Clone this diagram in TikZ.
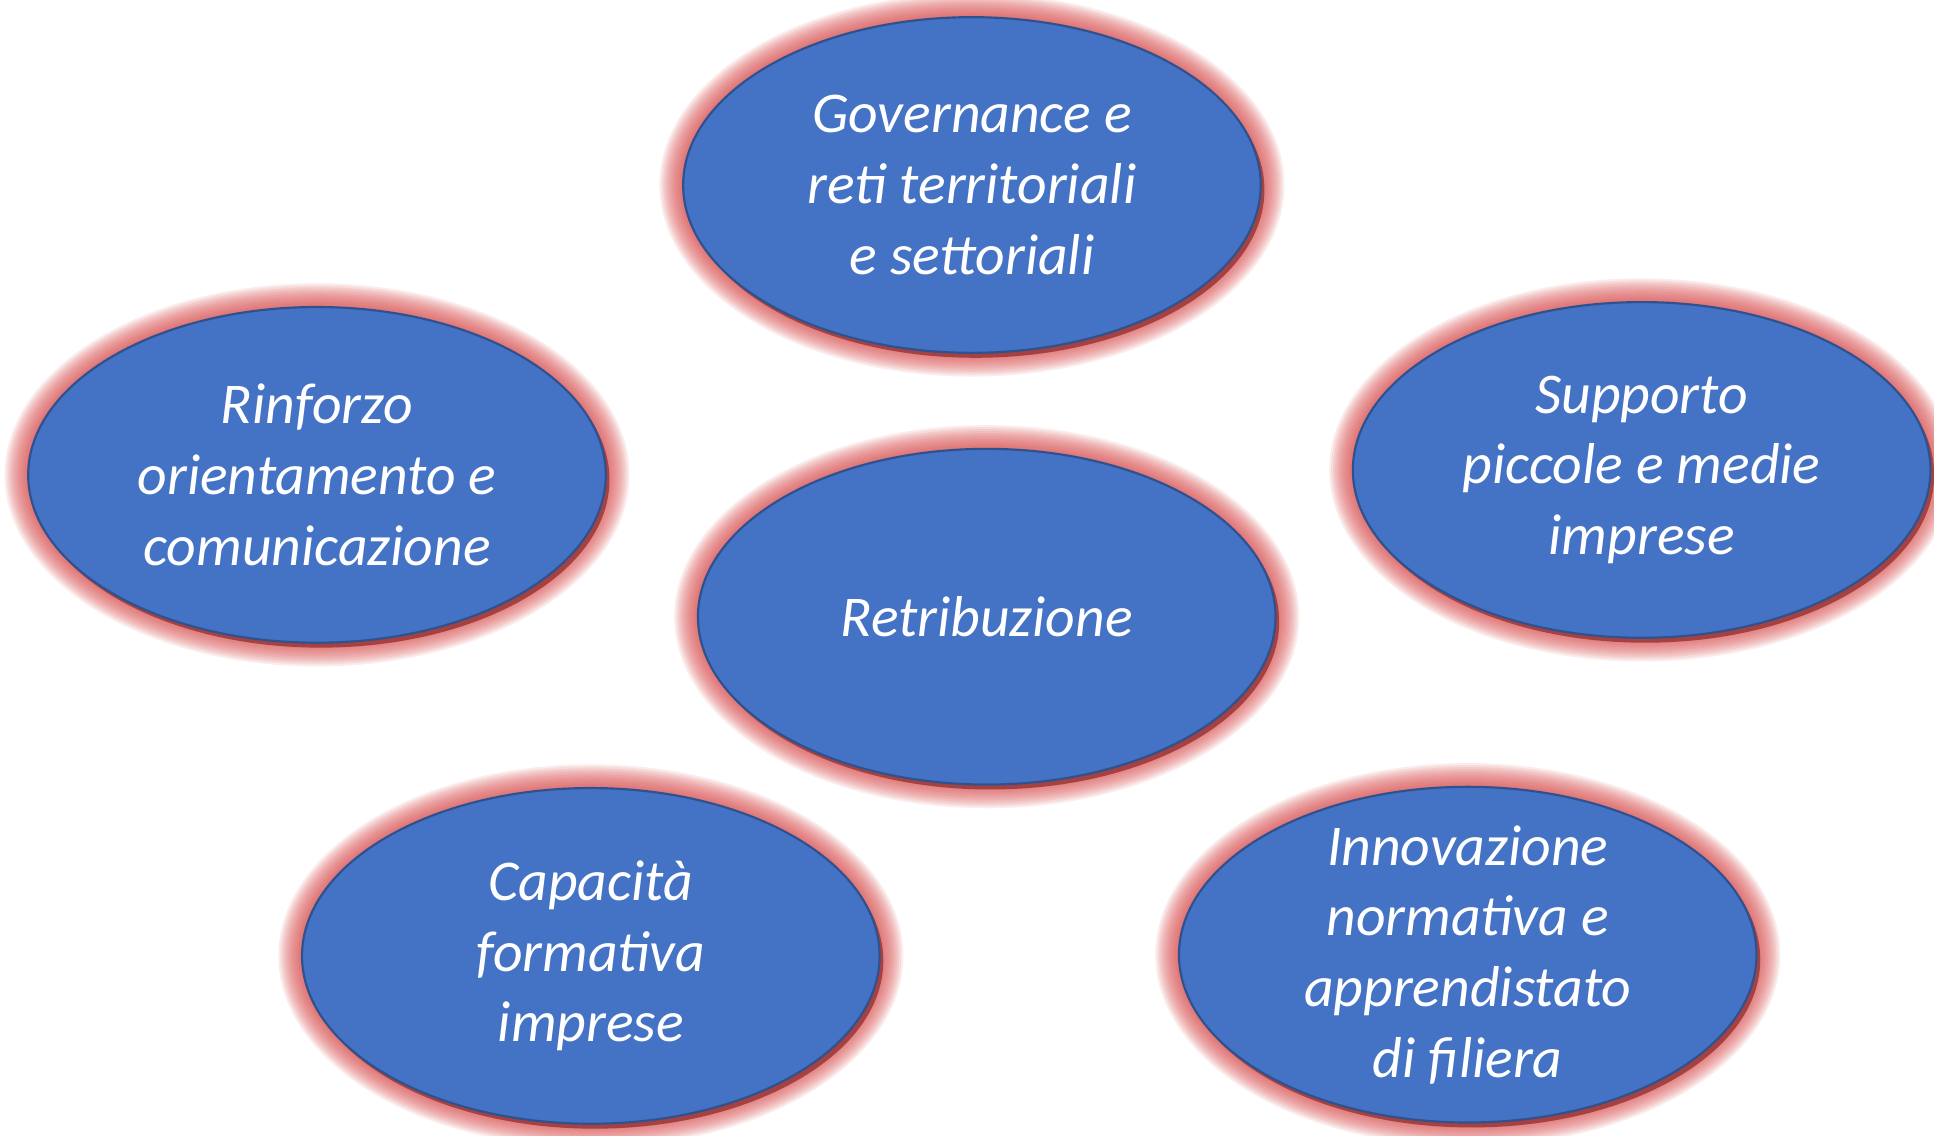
\documentclass[tikz,border=0pt]{standalone}
\usepackage{fontspec}
\setmainfont{Carlito}
\usetikzlibrary{shapes.geometric,backgrounds}
\definecolor{topicBlue}{RGB}{68,114,196}
\definecolor{topicLine}{RGB}{47,82,143}
\definecolor{glowRed}{RGB}{215,75,75}
\definecolor{rimRed}{RGB}{165,65,65}
\tikzstyle{topicNode}=[ellipse, fill=topicBlue, draw=topicLine, line width=0.5pt, minimum width=4.68cm, minimum height=2.72cm, inner xsep=0pt, inner ysep=-5pt, align=center, text=white, font=\fontsize{13.3}{16.3}\selectfont\itshape]
\tikzstyle{topicGlow}=[glowRed, opacity=0.11]

\begin{document}
\begin{tikzpicture}[x=0.01cm, y=-0.01cm]
	\useasboundingbox (0,0) rectangle (1568,921);

	\node[topicNode] (gov) at (788,150) {Governance e\\reti territoriali\\e settoriali};
	\node[topicNode] (rinf) at (257,385) {Rinforzo\\orientamento e\\comunicazione};
	\node[topicNode] (supp) at (1331,381) {Supporto\\piccole e medie\\imprese};
	\node[topicNode] (retr) at (800,500) {Retribuzione};
	\node[topicNode] (cap) at (479,775) {Capacità\\formativa\\imprese};
	\node[topicNode] (innov) at (1190,774) {Innovazione\\normativa e\\apprendistato\\di filiera};

	\begin{pgfonlayer}{background}
		\foreach \n in {gov, rinf, supp, retr, cap, innov} {
			\foreach \k in {1,...,12}
				\fill[topicGlow] (\n.center) ellipse [x radius=2.34cm+\k*0.016cm, y radius=1.36cm+\k*0.016cm];
			\fill[rimRed] ([shift={(0.03cm,-0.04cm)}]\n.center) ellipse [x radius=2.34cm, y radius=1.36cm];
		}
	\end{pgfonlayer}
\end{tikzpicture}
\end{document}
